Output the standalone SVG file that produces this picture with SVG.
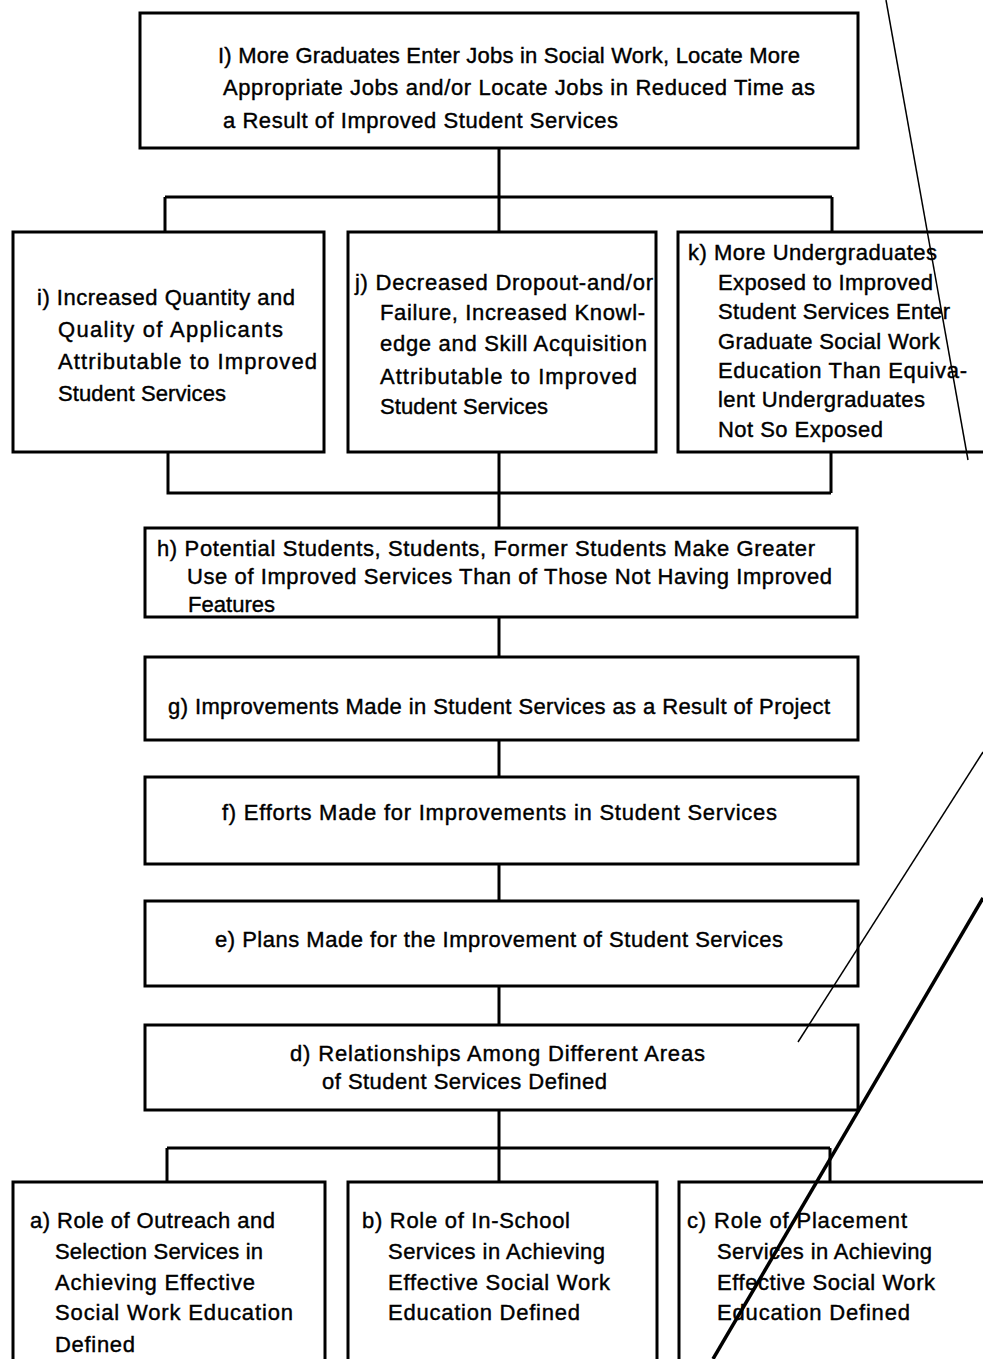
<svg xmlns="http://www.w3.org/2000/svg" width="983" height="1359" viewBox="0 0 983 1359">
<style>
.box{fill:#fff;stroke:#000;stroke-width:3}
.t{font-family:"Liberation Sans",Arial,sans-serif;font-size:22px;fill:#000;stroke:#000;stroke-width:0.4}
.c{stroke:#000;stroke-width:3;fill:none}
.m{stroke:#000;fill:none}
</style>
<rect width="983" height="1359" fill="#fff"/>
<g id="connectors">
<path class="c" d="M499 148V197M165 197H832M165 197V232M499 197V232M832 197V232"/>
<path class="c" d="M168 453V493H831M831 453V493M499 453V528"/>
<path class="c" d="M499 617V657M499 740V777M499 864V901M499 986V1025M499 1110V1182"/>
<path class="c" d="M167 1148H830M167 1148V1182M830 1148V1182"/>
</g>
<g id="node-l">
<rect class="box" x="140" y="13" width="718" height="135"/>
<text class="t" x="218" y="63" textLength="582" lengthAdjust="spacing">I) More Graduates Enter Jobs in Social Work, Locate More</text>
<text class="t" x="223" y="95" textLength="592" lengthAdjust="spacing">Appropriate Jobs and/or Locate Jobs in Reduced Time as</text>
<text class="t" x="223" y="128" textLength="395" lengthAdjust="spacing">a Result of Improved Student Services</text>
</g>
<g id="node-i">
<rect class="box" x="13" y="232" width="311" height="220"/>
<text class="t" x="37" y="305" textLength="258" lengthAdjust="spacing">i) Increased Quantity and</text>
<text class="t" x="58" y="337" textLength="225" lengthAdjust="spacing">Quality of Applicants</text>
<text class="t" x="58" y="369" textLength="259" lengthAdjust="spacing">Attributable to Improved</text>
<text class="t" x="58" y="401" textLength="168" lengthAdjust="spacing">Student Services</text>
</g>
<g id="node-j">
<rect class="box" x="348" y="232" width="308" height="220"/>
<text class="t" x="355" y="290" textLength="298" lengthAdjust="spacing">j) Decreased Dropout-and/or</text>
<text class="t" x="380" y="320" textLength="265" lengthAdjust="spacing">Failure, Increased Knowl-</text>
<text class="t" x="380" y="351" textLength="267" lengthAdjust="spacing">edge and Skill Acquisition</text>
<text class="t" x="380" y="384" textLength="257" lengthAdjust="spacing">Attributable to Improved</text>
<text class="t" x="380" y="414" textLength="168" lengthAdjust="spacing">Student Services</text>
</g>
<g id="node-k">
<rect class="box" x="678" y="232" width="320" height="220"/>
<text class="t" x="688" y="260" textLength="249" lengthAdjust="spacing">k) More Undergraduates</text>
<text class="t" x="718" y="290" textLength="215" lengthAdjust="spacing">Exposed to Improved</text>
<text class="t" x="718" y="319" textLength="232" lengthAdjust="spacing">Student Services Enter</text>
<text class="t" x="718" y="349" textLength="222" lengthAdjust="spacing">Graduate Social Work</text>
<text class="t" x="718" y="378" textLength="249" lengthAdjust="spacing">Education Than Equiva-</text>
<text class="t" x="718" y="407" textLength="207" lengthAdjust="spacing">lent Undergraduates</text>
<text class="t" x="718" y="437" textLength="165" lengthAdjust="spacing">Not So Exposed</text>
</g>
<g id="node-h">
<rect class="box" x="145" y="528" width="712" height="89"/>
<text class="t" x="157" y="556" textLength="658" lengthAdjust="spacing">h) Potential Students, Students, Former Students Make Greater</text>
<text class="t" x="187" y="584" textLength="645" lengthAdjust="spacing">Use of Improved Services Than of Those Not Having Improved</text>
<text class="t" x="188" y="612" textLength="87" lengthAdjust="spacing">Features</text>
</g>
<g id="node-g">
<rect class="box" x="145" y="657" width="713" height="83"/>
<text class="t" x="168" y="714" textLength="662" lengthAdjust="spacing">g) Improvements Made in Student Services as a Result of Project</text>
</g>
<g id="node-f">
<rect class="box" x="145" y="777" width="713" height="87"/>
<text class="t" x="222" y="820" textLength="555" lengthAdjust="spacing">f) Efforts Made for Improvements in Student Services</text>
</g>
<g id="node-e">
<rect class="box" x="145" y="901" width="713" height="85"/>
<text class="t" x="215" y="947" textLength="568" lengthAdjust="spacing">e) Plans Made for the Improvement of Student Services</text>
</g>
<g id="node-d">
<rect class="box" x="145" y="1025" width="713" height="85"/>
<text class="t" x="290" y="1061" textLength="415" lengthAdjust="spacing">d) Relationships Among Different Areas</text>
<text class="t" x="322" y="1089" textLength="285" lengthAdjust="spacing">of Student Services Defined</text>
</g>
<g id="node-a">
<rect class="box" x="13" y="1182" width="312" height="190"/>
<text class="t" x="30" y="1228" textLength="245" lengthAdjust="spacing">a) Role of Outreach and</text>
<text class="t" x="55" y="1259" textLength="208" lengthAdjust="spacing">Selection Services in</text>
<text class="t" x="55" y="1290" textLength="200" lengthAdjust="spacing">Achieving Effective</text>
<text class="t" x="55" y="1320" textLength="238" lengthAdjust="spacing">Social Work Education</text>
<text class="t" x="55" y="1352" textLength="80" lengthAdjust="spacing">Defined</text>
</g>
<g id="node-b">
<rect class="box" x="348" y="1182" width="309" height="190"/>
<text class="t" x="362" y="1228" textLength="208" lengthAdjust="spacing">b) Role of In-School</text>
<text class="t" x="388" y="1259" textLength="217" lengthAdjust="spacing">Services in Achieving</text>
<text class="t" x="388" y="1290" textLength="222" lengthAdjust="spacing">Effective Social Work</text>
<text class="t" x="388" y="1320" textLength="192" lengthAdjust="spacing">Education Defined</text>
</g>
<g id="node-c">
<rect class="box" x="679" y="1182" width="320" height="190"/>
<text class="t" x="687" y="1228" textLength="220" lengthAdjust="spacing">c) Role of Placement</text>
<text class="t" x="717" y="1259" textLength="215" lengthAdjust="spacing">Services in Achieving</text>
<text class="t" x="717" y="1290" textLength="218" lengthAdjust="spacing">Effective Social Work</text>
<text class="t" x="717" y="1320" textLength="193" lengthAdjust="spacing">Education Defined</text>
</g>
<g id="scan-marks">
<path class="m" stroke-width="1.5" d="M886 0L968 460"/>
<path class="m" stroke-width="1.5" d="M983 752L798 1042"/>
<path class="m" stroke-width="3.5" d="M983 898L713 1359"/>
</g>
</svg>
